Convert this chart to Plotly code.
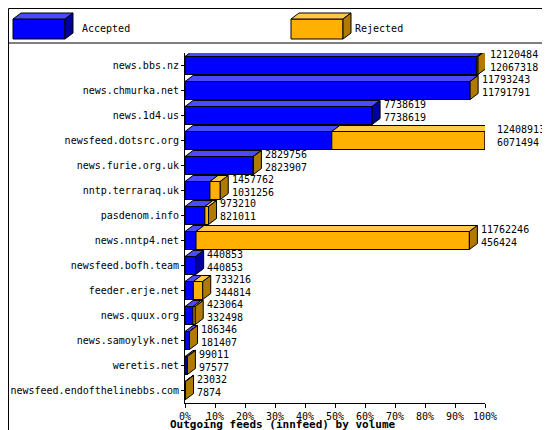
import plotly.graph_objects as go

hosts = ["news.bbs.nz","news.chmurka.net","news.1d4.us","newsfeed.dotsrc.org","news.furie.org.uk",
         "nntp.terraraq.uk","pasdenom.info","news.nntp4.net","newsfeed.bofh.team","feeder.erje.net",
         "news.quux.org","news.samoylyk.net","weretis.net","newsfeed.endofthelinebbs.com"]
offered = [12120484,11793243,7738619,12408913,2829756,1457762,973210,11762246,440853,733216,423064,186346,99011,23032]
accepted = [12067318,11791791,7738619,6071494,2823907,1031256,821011,456424,440853,344814,332498,181407,97577,7874]

W, H = 550, 430
L, R, T, B = 177, 73, 45, 35
PW, PH = W - L - R, H - T - B
n = len(hosts)
ux = 100 / PW
uy = n / PH
dx, dy = 8 * ux, 6 * uy
hh = 9 * uy

BLUE = ("#0000ff", "#4a4aff", "#0000a0")
ORNG = ("#ffb000", "#ffc84a", "#b07a00")

fig = go.Figure()
def poly(xs, ys, color):
    fig.add_trace(go.Scatter(x=xs + [xs[0]], y=ys + [ys[0]], mode="lines", fill="toself",
                             fillcolor=color, line=dict(color="black", width=1), cliponaxis=False,
                             hoverinfo="skip", showlegend=False))

def px(xp): return (xp - L) / PW
def py(yp): return (H - B - yp) / PH

mx = max(offered)
ann = []
for i, (h, o, a) in enumerate(zip(hosts, offered, accepted)):
    tot = o / mx * 100
    acc = a / mx * 100
    segs = [(0, acc, BLUE), (acc, tot, ORNG)]
    segs = [s for s in segs if s[1] - s[0] > 1e-9]
    y0, y1 = i + hh, i - hh
    for x0, x1, c in segs:
        poly([x0, x1, x1, x0], [y0, y0, y1, y1], c[0])
        poly([x0, x1, x1 + dx, x0 + dx], [y1, y1, y1 - dy, y1 - dy], c[1])
    c = segs[-1][2]
    poly([tot, tot + dx, tot + dx, tot], [y0, y0 - dy, y1 - dy, y1], c[2])
    ann.append(dict(x=(tot + dx + 0.6) / 100, y=1 - (i + 0.5 - 0.2) / n, xref="paper", yref="paper",
                    text=f"{o}<br>{a}", showarrow=False, xanchor="left", yanchor="middle", align="left",
                    font=dict(size=10, color="black")))

shapes = [
    dict(type="rect", xref="paper", yref="paper", x0=px(0.5), x1=px(W - 0.5), y0=py(H - 0.5), y1=py(0.5),
         line=dict(color="black", width=1)),
    dict(type="line", xref="paper", yref="paper", x0=px(0), x1=px(W), y0=py(35), y1=py(35),
         line=dict(color="black", width=1)),
]
for (lx, cols, label, tx) in [(5, BLUE, "Accepted", 72), (283, ORNG, "Rejected", 345)]:
    shapes.append(dict(type="path", xref="paper", yref="paper", fillcolor=cols[0], line=dict(color="black", width=1),
        path=f"M{px(lx)},{py(31)} L{px(lx+52)},{py(31)} L{px(lx+52)},{py(11)} L{px(lx)},{py(11)} Z"))
    shapes.append(dict(type="path", xref="paper", yref="paper", fillcolor=cols[1], line=dict(color="black", width=1),
        path=f"M{px(lx)},{py(11)} L{px(lx+52)},{py(11)} L{px(lx+60)},{py(5)} L{px(lx+8)},{py(5)} Z"))
    shapes.append(dict(type="path", xref="paper", yref="paper", fillcolor=cols[2], line=dict(color="black", width=1),
        path=f"M{px(lx+52)},{py(31)} L{px(lx+60)},{py(25)} L{px(lx+60)},{py(5)} L{px(lx+52)},{py(11)} Z"))
    ann.append(dict(x=px(tx), y=py(20), xref="paper", yref="paper", text=label, showarrow=False,
                    xanchor="left", yanchor="middle", font=dict(size=10, color="black")))

ann.append(dict(x=px(275), y=py(416), xref="paper", yref="paper", text="<b>Outgoing feeds (innfeed) by volume</b>",
                showarrow=False, xanchor="center", yanchor="middle", font=dict(size=11, color="black")))

fig.update_layout(
    width=W, height=H, margin=dict(l=L, r=R, t=T, b=B, autoexpand=False),
    paper_bgcolor="white", plot_bgcolor="white",
    font=dict(family="DejaVu Sans Mono", size=10, color="black"),
    showlegend=False, shapes=shapes, annotations=ann,
    xaxis=dict(range=[0, 100], tickvals=list(range(0, 101, 10)), ticktext=[f"{v}%" for v in range(0, 101, 10)],
               showgrid=False, zeroline=False, showline=True, linecolor="black", ticks="outside",
               ticklen=4, tickcolor="black", tickfont=dict(size=10), automargin=False),
    yaxis=dict(range=[n - 0.5, -0.5], tickvals=list(range(n)), ticktext=hosts, showgrid=False, zeroline=False,
               showline=True, linecolor="black", ticks="outside", ticklen=3, tickcolor="black",
               tickfont=dict(size=10), automargin=False),
)
fig.write_html("out.html")
